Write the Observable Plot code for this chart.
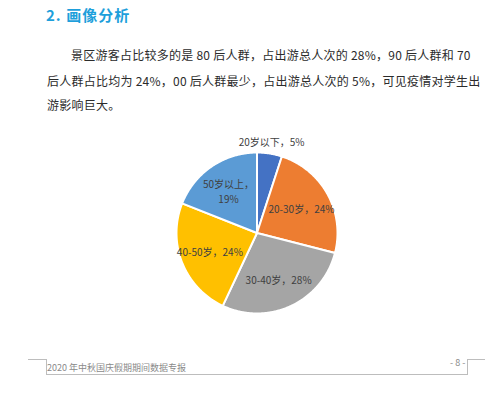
<!DOCTYPE html>
<html>
<head>
<meta charset="utf-8">
<script src="https://cdn.jsdelivr.net/npm/d3@7"></script>
<script src="https://cdn.jsdelivr.net/npm/@observablehq/plot@0.6"></script>
<style>
  html, body { margin: 0; padding: 0; background: #fff; }
  body { width: 499px; height: 396px; position: relative; overflow: hidden; font-family: "Noto Sans CJK SC", sans-serif; }
  .abs { position: absolute; white-space: nowrap; }
  #title { left: 46px; top: 4px; font-size: 15px; font-weight: bold; color: #1E9FDB; line-height: 22px; letter-spacing: 1px; }
  .para { font-size: 12px; color: #2b2b2b; line-height: 16px; letter-spacing: 0.25px; }
  #chart { position: absolute; left: 0; top: 125px; }
  .footline { position: absolute; background: #bdbdbd; }
  #foottext { left: 47px; top: 361px; font-size: 9px; color: #8a8a8a; line-height: 13px; }
  #pagenum { left: 450px; top: 356px; font-size: 9px; color: #8a8a8a; line-height: 13px; }
</style>
</head>
<body>
<div id="title" class="abs">2. 画像分析</div>
<div class="abs para" style="left:71px; top:47px;">景区游客占比较多的是 80 后人群，占出游总人次的 28%，90 后人群和 70</div>
<div class="abs para" style="left:47px; top:73px;">后人群占比均为 24%，00 后人群最少，占出游总人次的 5%，可见疫情对学生出</div>
<div class="abs para" style="left:47px; top:97px;">游影响巨大。</div>
<div id="chart"></div>
<div class="footline" style="left:28px; top:359px; width:18px; height:1px;"></div>
<div class="footline" style="left:46px; top:359px; width:1px; height:16px;"></div>
<div class="footline" style="left:46px; top:374px; width:422px; height:1px;"></div>
<div class="footline" style="left:467px; top:359px; width:1px; height:16px;"></div>
<div class="footline" style="left:467px; top:359px; width:18px; height:1px;"></div>
<div id="foottext" class="abs">2020 年中秋国庆假期期间数据专报</div>
<div id="pagenum" class="abs">- 8 -</div>
<script>
const categories = ["20岁以下", "20-30岁", "30-40岁", "40-50岁", "50岁以上"];
const shares = [5, 24, 28, 24, 19];
const labels = ["20岁以下，5%", "20-30岁，24%", "30-40岁，28%", "40-50岁，24%", "50岁以上，\n19%"];
const colors = ["#4472C4", "#ED7D31", "#A5A5A5", "#FFC000", "#5B9BD5"];

const arcs = d3.pie().sort(null).value(d => d)(shares);

// polygon outline points for each slice (unit circle geometry)
const polys = [];
arcs.forEach((a, i) => {
  polys.push({name: categories[i], x: 0, y: 0});
  const n = Math.max(2, Math.ceil((a.endAngle - a.startAngle) / 0.01));
  for (let k = 0; k <= n; k++) {
    const t = a.startAngle + (a.endAngle - a.startAngle) * k / n;
    polys.push({name: categories[i], x: Math.sin(t), y: Math.cos(t)});
  }
});

const labelData = arcs.map((a, i) => {
  const m = (a.startAngle + a.endAngle) / 2;
  const r = shares[i] < 10 ? 1.16 : 0.63;
  return {label: labels[i], x: r * Math.sin(m), y: r * Math.cos(m)};
});

const cx = 256.5, cy = 107.5, R = 80.5;
const chart = Plot.plot({
  width: 499,
  height: 200,
  margin: 0,
  style: {background: "transparent", fontFamily: "Noto Sans CJK SC, sans-serif"},
  x: {domain: [-1, 1], range: [cx - R, cx + R], axis: null},
  y: {domain: [-1, 1], range: [cy + R, cy - R], axis: null},
  color: {domain: categories, range: colors},
  marks: [
    Plot.line(polys, {x: "x", y: "y", z: "name", fill: "name", stroke: "white", strokeWidth: 2, curve: "linear-closed"}),
    Plot.text(labelData, {x: "x", y: "y", text: "label", fill: "#404040", fontSize: 10, lineHeight: 1.5})
  ]
});
document.getElementById("chart").appendChild(chart);
</script>
</body>
</html>
